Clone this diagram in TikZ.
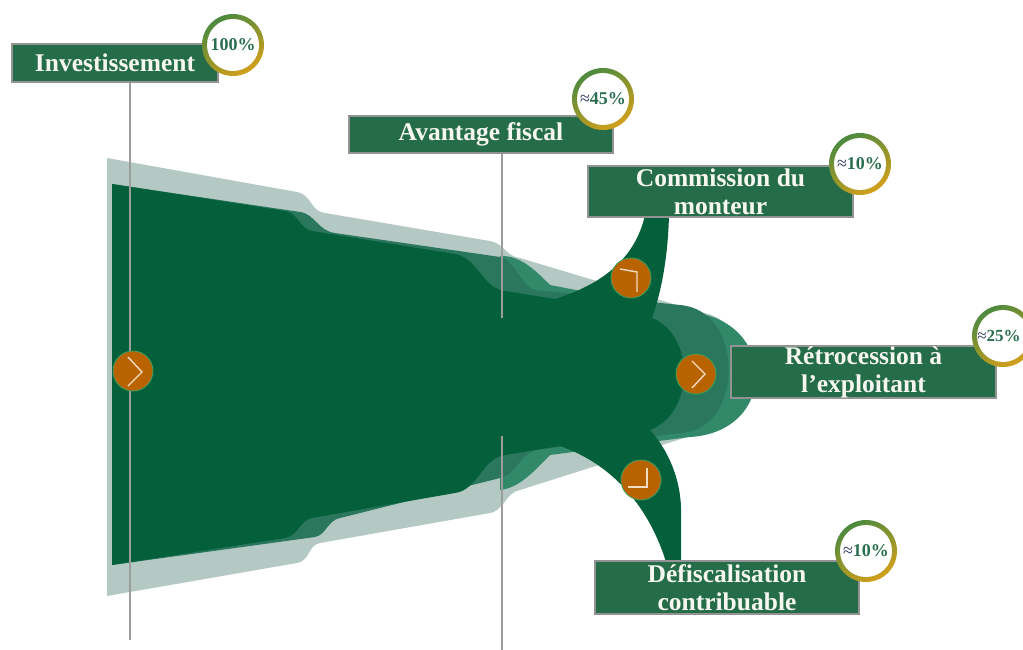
\documentclass[tikz,border=0pt]{standalone}
\usepackage{fontspec}
\setmainfont{Liberation Serif}
\definecolor{lightback}{HTML}{B4C9C3}
\definecolor{lgreen}{HTML}{32896A}
\definecolor{mgreen}{HTML}{2A775E}
\definecolor{dgreen}{HTML}{03603A}
\definecolor{boxgreen}{HTML}{256C48}
\definecolor{boxgray}{HTML}{939393}
\definecolor{orangec}{HTML}{B96300}
\definecolor{orbord}{HTML}{3EA062}
\definecolor{cream}{HTML}{F3DCC4}
\definecolor{glinec}{HTML}{9C9C9C}
\definecolor{ringgreen}{HTML}{4C8A3E}
\definecolor{ringgold}{HTML}{D2A01C}
\definecolor{pcttext}{HTML}{2A6E50}
\definecolor{navyc}{HTML}{24325A}
\definecolor{boxtext}{HTML}{F7F7F2}
\begin{document}
\begin{tikzpicture}[x=1pt,y=-1pt,
  lbl/.style={draw=boxgray, line width=2.5pt, fill=boxgreen, text=boxtext,
    font=\bfseries\fontsize{25.5}{28}\selectfont, align=center, inner sep=0pt},
  pct/.style={circle, minimum size=62pt, inner sep=0pt, left color=ringgreen, right color=ringgold,
    shading angle=30, path picture={\fill[white] (path picture bounding box.center) circle (26);},
    font=\bfseries\fontsize{18}{20}\selectfont, text=pcttext},
  pcttxt/.style={inner sep=0pt, font=\bfseries\fontsize{17}{20}\selectfont, text=pcttext},
  orb/.style={circle, minimum size=40pt, inner sep=0pt, fill=orangec, draw=orbord, line width=0.8pt},
  chev/.style={draw=cream, line width=1.4pt},
  gline/.style={draw=glinec, line width=2pt}]
\useasboundingbox (0,0) rectangle (1023,650);
% back light layer
\fill[lightback] (107,158) -- (297,192) .. controls (312,195) and (310,211) .. (325,213) -- (490,241) .. controls (505,244) and (505,256) .. (520,258) -- (700,312) .. controls (760,320) and (760,425) .. (700,433) -- (520,490) .. controls (505,493) and (505,510) .. (490,513) -- (320,543) .. controls (308,545) and (310,561) .. (297,563) -- (107,596) -- cycle;
% lighter green layer
\fill[lgreen] (500,256) .. controls (520,255) and (535,270) .. (550,285) -- (690,312) .. controls (778,320) and (778,432) .. (690,437) -- (550,455) .. controls (535,470) and (520,488) .. (500,490) -- cycle;
% medium green layer
\fill[mgreen] (112,184) -- (300,212) .. controls (315,214) and (318,231) .. (335,233) -- (500,257) .. controls (515,260) and (520,285) .. (535,290) -- (680,305) .. controls (745,310) and (745,430) .. (680,433) -- (535,450) .. controls (520,455) and (515,475) .. (500,478) -- (340,518) .. controls (328,520) and (326,535) .. (315,537) -- (112,565) -- cycle;
% dark main shape
\fill[dgreen] (112,184) -- (285,211) .. controls (298,213) and (300,229) .. (312,231) -- (455,254) .. controls (478,258) and (482,288) .. (505,291) -- (555,299) .. controls (600,285) and (635,260) .. (645,215) -- (669,215) .. controls (668,255) and (662,290) .. (652,318) .. controls (695,335) and (695,413) .. (650,430) .. controls (668,450) and (682,480) .. (681,515) -- (681,562) -- (666,562) .. controls (650,510) and (615,465) .. (560,446) -- (505,455) .. controls (482,458) and (478,490) .. (455,493) -- (312,518) .. controls (300,520) and (298,536) .. (285,538) -- (112,565) -- cycle;
% boxes
\node[lbl, minimum width=206pt, minimum height=38pt] (inv) at (115,63) {Investissement};
\node[lbl, minimum width=264pt, minimum height=37pt] (avf) at (481,134.5) {Avantage fiscal};
\node[lbl, minimum width=265pt, minimum height=51pt] (com) at (720.5,191.5) {Commission du\\monteur};
\node[lbl, minimum width=265pt, minimum height=52pt] (ret) at (863.5,372) {Rétrocession à\\l’exploitant};
\node[lbl, minimum width=264pt, minimum height=53pt] (def) at (727,587.5) {Défiscalisation\\contribuable};
% vertical lines
\coordinate (l1) at (130,640);
\coordinate (l2a) at (502,318);
\coordinate (l2b) at (502,436);
\coordinate (l2c) at (502,650);
\draw[gline] (l1 |- inv.south) -- (l1);
\draw[gline] (l2a |- avf.south) -- (l2a);
\draw[gline] (l2b) -- (l2c);
% orange markers
\node[orb] (c1) at (133,371) {};
\node[orb] (c2) at (631,278) {};
\node[orb] (c3) at (696,374) {};
\node[orb] (c4) at (641,480) {};
\draw[chev] ([shift={(-5,-14)}]c1.center) -- ([shift={(9,1)}]c1.center) -- ([shift={(-5,15)}]c1.center);
\draw[chev] ([shift={(-11,-9)}]c2.center) -- ([shift={(6,-6)}]c2.center) -- ([shift={(6,14)}]c2.center);
\draw[chev] ([shift={(-4,-13)}]c3.center) -- ([shift={(9,0)}]c3.center) -- ([shift={(-4,14)}]c3.center);
\draw[chev] ([shift={(-13,7)}]c4.center) -- ([shift={(6,7)}]c4.center) -- ([shift={(6,-12)}]c4.center);
% percentage rings
\node[pct] (p1) at (233,45) {100\%};
\node[pct] (p2) at (603,99) {{\mdseries\color{navyc}≈}45\%};
\node[pct] (p3) at (860,164) {{\mdseries\color{navyc}≈}10\%};
\node[pct] (p4) at (1003,336) {};
\node[pcttxt] (p4t) at ([xshift=-4]p4.center) {{\mdseries\color{navyc}≈}25\%};
\node[pct] (p5) at (866,551) {{\mdseries\color{navyc}≈}10\%};
\end{tikzpicture}
\end{document}
